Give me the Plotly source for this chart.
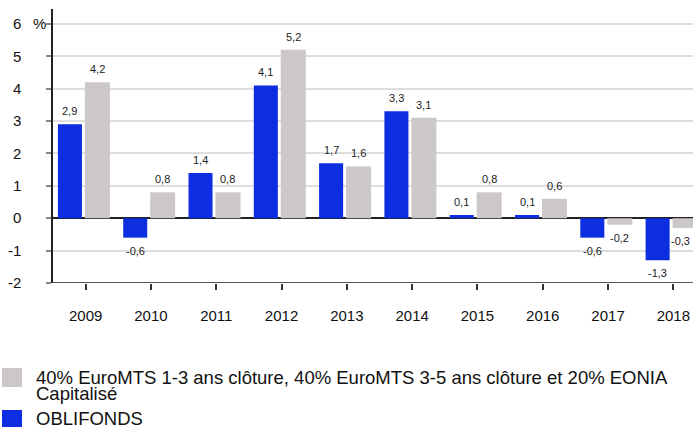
import plotly.graph_objects as go

years = ["2009", "2010", "2011", "2012", "2013", "2014", "2015", "2016", "2017", "2018"]
oblifonds = [2.9, -0.6, 1.4, 4.1, 1.7, 3.3, 0.1, 0.1, -0.6, -1.3]
benchmark = [4.2, 0.8, 0.8, 5.2, 1.6, 3.1, 0.8, 0.6, -0.2, -0.3]
name_fund = "OBLIFONDS"
name_bench_l1 = "40% EuroMTS 1-3 ans clôture, 40% EuroMTS 3-5 ans clôture et 20% EONIA"
name_bench_l2 = "Capitalisé"
y_ticks = [-2, -1, 0, 1, 2, 3, 4, 5, 6]

BLUE = "#0c2de0"
GREY = "#ccc8c8"
FONT = "Arial, Liberation Sans, sans-serif"

W, H = 693, 427
L, R, T, B = 53, 0, 9, 144
PW, PH = W - L - R, H - T - B
STEP = 65.3  # px per category
X_MAX = -0.5 + PW / STEP

def px(x):
    return (x - L) / PW

def py(y):
    return (H - B - y) / PH

def fmt(v):
    return f"{v:.1f}".replace(".", ",")

xs = list(range(len(years)))

# bar geometry (in category units)
FUND_OFF, FUND_W = -0.425, 0.368
BENCH_OFF, BENCH_W = -0.012, 0.383

fig = go.Figure()
fig.add_trace(go.Bar(x=xs, y=oblifonds, name=name_fund, offset=FUND_OFF, width=FUND_W,
                     marker=dict(color=BLUE, line=dict(width=0))))
fig.add_trace(go.Bar(x=xs, y=benchmark, name=name_bench_l1, offset=BENCH_OFF, width=BENCH_W,
                     marker=dict(color=GREY, line=dict(width=0))))

annotations = []
for i, (a, b) in enumerate(zip(oblifonds, benchmark)):
    for v, c in ((a, FUND_OFF + FUND_W / 2), (b, BENCH_OFF + BENCH_W / 2)):
        xc = i + c
        anchor = "center"
        if (xc + 0.5) * STEP + L + 11 > W:  # keep label inside the canvas
            xc, anchor = X_MAX - 0.01, "right"
        annotations.append(dict(
            x=xc, y=v, xref="x", yref="y", text=fmt(v), showarrow=False, xanchor=anchor,
            yshift=13 if v >= 0 else -13, font=dict(size=11, color="#222", family=FONT),
        ))

annotations.append(dict(x=px(31), y=py(24), xref="paper", yref="paper", text="%",
                        showarrow=False, xanchor="left", yanchor="middle",
                        font=dict(size=15, color="#111", family=FONT)))

# legend
for text, yy in ((name_bench_l1, 377), (name_bench_l2, 393), (name_fund, 418)):
    annotations.append(dict(x=px(34), y=py(yy), xref="paper", yref="paper", text=text,
                            showarrow=False, xanchor="left", yanchor="middle",
                            font=dict(size=18.5, color="#111", family=FONT)))

shapes = [
    dict(type="rect", xref="paper", yref="paper", x0=px(2), x1=px(22), y0=py(368), y1=py(387),
         fillcolor=GREY, line=dict(width=0)),
    dict(type="rect", xref="paper", yref="paper", x0=px(2), x1=px(22), y0=py(410), y1=py(429),
         fillcolor=BLUE, line=dict(width=0)),
]

fig.update_layout(
    width=W, height=H,
    margin=dict(l=L, r=R, t=T, b=B, pad=0),
    paper_bgcolor="white", plot_bgcolor="white",
    barmode="overlay",
    showlegend=False,
    font=dict(family=FONT, color="#111"),
    annotations=annotations,
    shapes=shapes,
    xaxis=dict(
        range=[-0.5, X_MAX],
        tickmode="array", tickvals=xs, ticktext=years,
        ticks="outside", ticklen=6, tickcolor="#333", tickwidth=1.5,
        showgrid=False, zeroline=False,
        showline=False,
        tickfont=dict(size=15, color="#111", family=FONT),
        ticklabelstandoff=13,
    ),
    yaxis=dict(
        range=[-2, 6.46],
        tickmode="array", tickvals=y_ticks, ticktext=[str(t) for t in y_ticks],
        ticks="outside", ticklen=5, tickcolor="#888", tickwidth=1.5,
        showgrid=True, gridcolor="#dedede", gridwidth=2,
        zeroline=True, zerolinecolor="#222", zerolinewidth=1.5,
        showline=True, linecolor="#222", linewidth=1.5,
        tickfont=dict(size=15, color="#111", family=FONT),
        ticklabelstandoff=22,
    ),
)

# bottom axis line at y=-2
fig.add_shape(type="line", xref="paper", yref="y", x0=0, x1=1, y0=-2, y1=-2,
              line=dict(color="#222", width=1.5), layer="above")

fig.write_html("out.html", config={"displayModeBar": False},
               post_script="document.body.style.margin='0';document.body.style.overflow='hidden';")
